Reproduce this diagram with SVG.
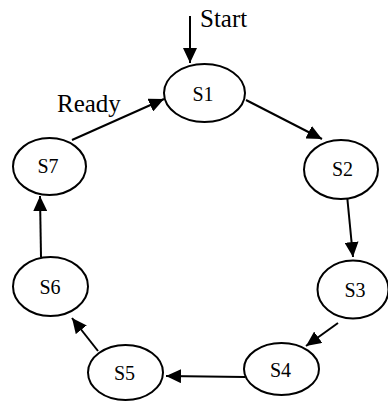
<svg xmlns="http://www.w3.org/2000/svg" width="388" height="401" viewBox="0 0 388 401">
<style>
.st ellipse{fill:#fff;stroke:#000;stroke-width:2}
.st text{font-family:"Liberation Serif","Times New Roman",serif;font-size:20px;text-anchor:middle;fill:#000}
.lbl{font-family:"Liberation Serif","Times New Roman",serif;font-size:25px;fill:#000}
.edges line{stroke:#000;stroke-width:2;marker-end:url(#ah)}
</style>
<defs>
<marker id="ah" markerUnits="userSpaceOnUse" markerWidth="16" markerHeight="14" refX="15" refY="7" orient="auto">
<path d="M0,0 L15,7 L0,14 z" fill="#000"/>
</marker>
</defs>
<rect width="388" height="401" fill="#fff"/>
<g class="edges" id="connectors">
<line x1="190" y1="16" x2="190" y2="63"/>
<line x1="246" y1="100" x2="322" y2="139"/>
<line x1="347" y1="195" x2="353" y2="257"/>
<line x1="338" y1="323" x2="306" y2="346"/>
<line x1="245" y1="377" x2="166" y2="376"/>
<line x1="98" y1="351" x2="72" y2="318"/>
<line x1="41" y1="257" x2="40" y2="196"/>
<line x1="72" y1="140" x2="164" y2="99"/>
</g>
<g id="S1" class="st"><ellipse cx="204.5" cy="93" rx="40.5" ry="29"/><text x="203" y="101">S1</text></g>
<g id="S2" class="st"><ellipse cx="341" cy="169.5" rx="37" ry="29.5"/><text x="342.5" y="176">S2</text></g>
<g id="S3" class="st"><ellipse cx="353" cy="289.5" rx="35.5" ry="29"/><text x="355" y="297">S3</text></g>
<g id="S4" class="st"><ellipse cx="281.5" cy="369" rx="37.5" ry="26"/><text x="280.5" y="377">S4</text></g>
<g id="S5" class="st"><ellipse cx="125.5" cy="372.5" rx="37.5" ry="27.5"/><text x="124.5" y="380">S5</text></g>
<g id="S6" class="st"><ellipse cx="50.5" cy="286.5" rx="37.5" ry="29.5"/><text x="50" y="294">S6</text></g>
<g id="S7" class="st"><ellipse cx="49.5" cy="166.5" rx="36.5" ry="28.5"/><text x="48" y="173">S7</text></g>
<text class="lbl" x="200" y="27">Start</text>
<text class="lbl" x="57" y="112">Ready</text>
</svg>
